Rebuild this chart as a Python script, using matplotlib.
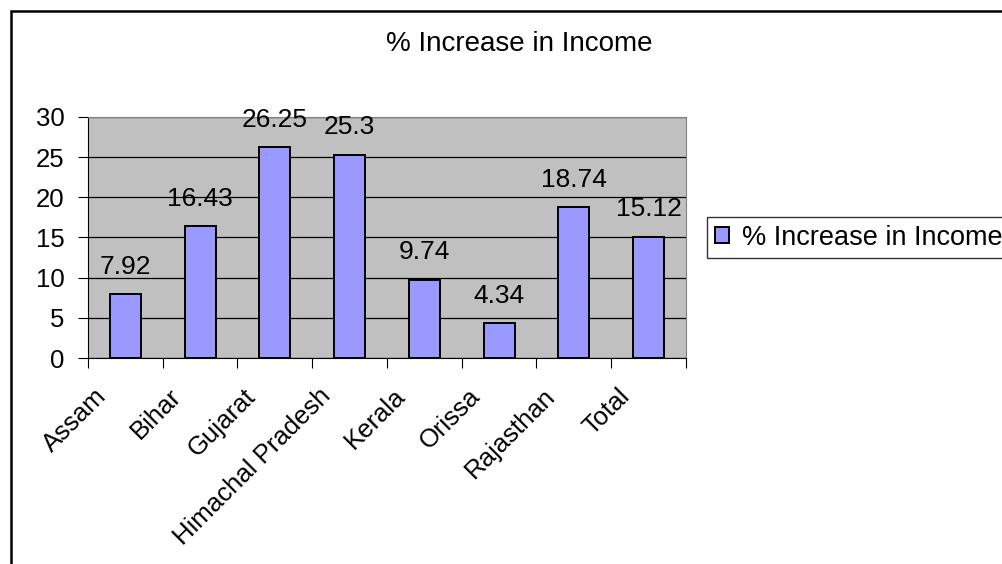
import matplotlib.pyplot as plt
import matplotlib.transforms as mtransforms
import numpy as np
from matplotlib.patches import Rectangle

plt.rcParams['font.family'] = ['Liberation Sans', 'DejaVu Sans']

# data
states = ['Assam', 'Bihar', 'Gujarat', 'Himachal Pradesh', 'Kerala', 'Orissa', 'Rajasthan', 'Total']
increase = [7.92, 16.43, 26.25, 25.3, 9.74, 4.34, 18.74, 15.12]
value_labels = ['7.92', '16.43', '26.25', '25.3', '9.74', '4.34', '18.74', '15.12']
series_name = '% Increase in Income'

FS = 19

fig = plt.figure(figsize=(10.03, 5.64), dpi=100)

# outer chart border (runs off the right/bottom of the picture)
fig.patches.append(Rectangle((11 / 1003, -0.1), 1.2, (564 - 11) / 564 + 0.1,
                             transform=fig.transFigure, fill=False,
                             edgecolor='black', linewidth=1.8))

ax = fig.add_axes([88 / 1003, 206 / 564, 598 / 1003, 241 / 564])
ax.set_facecolor('#C0C0C0')

x = np.arange(len(states))
bars = ax.bar(x, increase, width=0.415, color='#9999FF', edgecolor='black',
              linewidth=1.4, zorder=3, label=series_name)

for xi, v, lab in zip(x, increase, value_labels):
    ax.annotate(lab, (xi, v), xytext=(0, 11), textcoords='offset points',
                ha='center', va='bottom', fontsize=FS)

ax.set_xlim(-0.5, len(states) - 0.5)
ax.set_ylim(0, 30)
ax.set_yticks(np.arange(0, 31, 5))
ax.yaxis.grid(True, color='black', linewidth=0.9)
ax.set_axisbelow(True)

# tick marks sit on the category boundaries
ax.set_xticks(np.arange(-0.5, len(states), 1.0))
ax.set_xticklabels([])
ax.tick_params(axis='x', which='major', length=7, direction='out', color='black')
ax.tick_params(axis='y', length=7, direction='out', labelsize=FS - 0.5, pad=10)

# category labels, rotated 45°
off = mtransforms.ScaledTranslation(-31 / 100, -26 / 100, fig.dpi_scale_trans)
for xi, name in zip(x, states):
    ax.text(xi, 0, name, transform=ax.get_xaxis_transform() + off,
            rotation=45, ha='right', va='top', rotation_mode='anchor',
            fontsize=FS - 0.5)

for s in ['top', 'right']:
    ax.spines[s].set_color('#808080')
ax.spines['left'].set_color('black')
ax.spines['bottom'].set_color('black')

fig.text(519 / 1003, 1 - 44 / 564, series_name, ha='center', va='center', fontsize=FS + 1)

leg = fig.legend(handles=[bars], labels=[series_name], loc='upper left',
                 bbox_to_anchor=(707 / 1003, 1 - 217 / 564), fontsize=FS + 0.5,
                 frameon=True, fancybox=False, edgecolor='black',
                 handlelength=0.55, handleheight=0.55, handletextpad=0.45,
                 borderpad=0.28, borderaxespad=0)
leg.get_frame().set_linewidth(1.0)

fig.savefig('out.png', dpi=100)
